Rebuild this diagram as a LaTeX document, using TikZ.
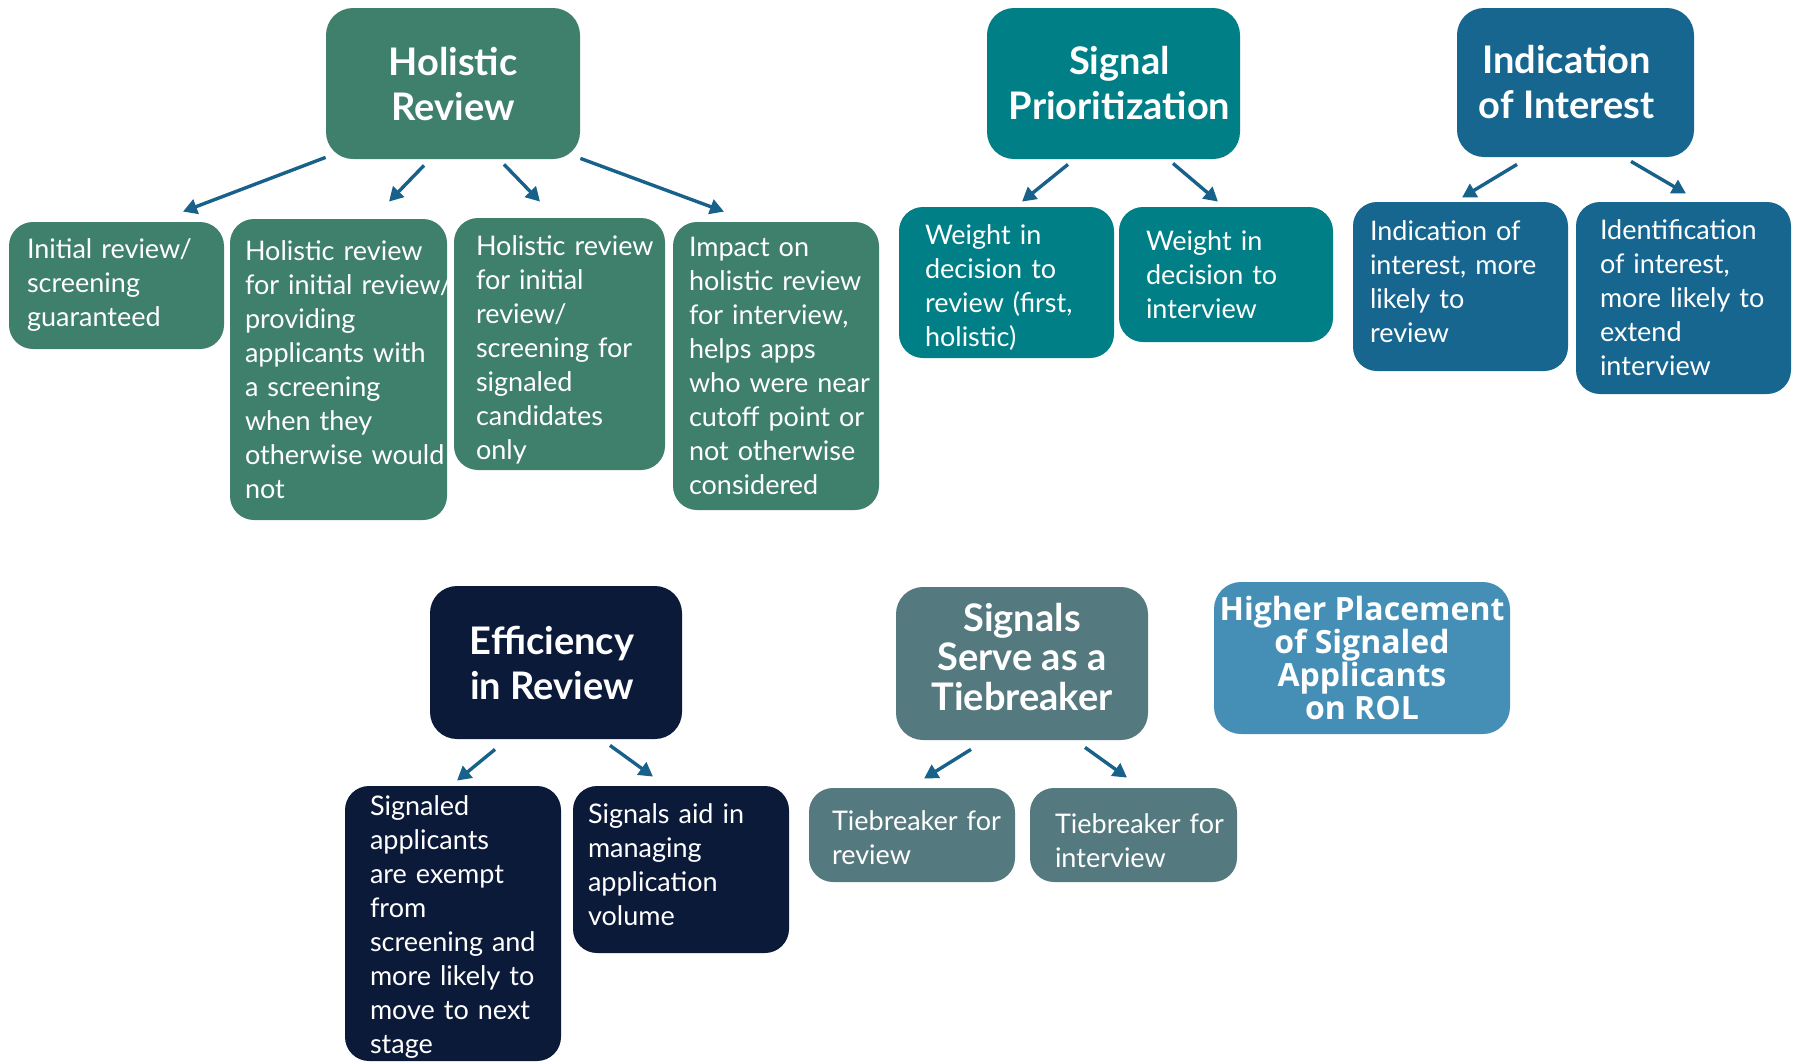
\documentclass[tikz,border=0pt]{standalone}
\usepackage{fontspec}
\setmainfont{Lato}
\newfontfamily\hpfont{Open Sans}
\usetikzlibrary{arrows.meta}
\definecolor{hrgreen}{HTML}{3F806C}
\definecolor{spteal}{HTML}{007F86}
\definecolor{iiblue}{HTML}{166690}
\definecolor{efnavy}{HTML}{0C1A3A}
\definecolor{tbslate}{HTML}{547A80}
\definecolor{hpblue}{HTML}{458FB7}
\definecolor{arrowc}{HTML}{17618A}
\tikzset{
  headbox/.style={rectangle, rounded corners=13.5pt, text=white, align=center, inner sep=0pt,
    font=\fontsize{19}{22.5}\selectfont\bfseries},
  childbox/.style={rectangle, rounded corners=12pt, text=white, align=left, inner xsep=0pt, inner ysep=0pt,
    font=\fontsize{13.5}{17}\selectfont,
    execute at begin node={\hyphenpenalty=10000\exhyphenpenalty=10000\hbadness=10000\hfuzz=50pt}},
  arr/.style={draw=arrowc, line width=1.7pt, -{Triangle[length=7pt,width=7.5pt]}},
}
\begin{document}
\begin{tikzpicture}[x=0.5pt,y=-0.5pt]
\path[use as bounding box, fill=white] (0,0) rectangle (1796,1062);
% heads
\node[headbox, fill=hrgreen, minimum width=127pt, minimum height=75.5pt, text depth=-2.2pt] (HR) at (453,83.5) {Holistic\\Review};
\node[headbox, fill=spteal, minimum width=126.5pt, minimum height=75.5pt] (SP) at (1113.5,83.5) {\hspace*{6pt}Signal\\\hspace*{6pt}Prioritization};
\node[headbox, fill=iiblue, minimum width=118.5pt, minimum height=74.5pt] (II) at (1575.5,82.5) {Indication\hspace*{9pt}\\of Interest\hspace*{9pt}};
\node[headbox, fill=efnavy, minimum width=126pt, minimum height=76.5pt] (EF) at (556,662.5) {Efficiency\hspace*{4pt}\\in Review\hspace*{4pt}};
\node[headbox, fill=tbslate, minimum width=126pt, minimum height=76.5pt, text depth=7pt, font=\fontsize{19}{19.75}\selectfont\bfseries] (TB) at (1022,663.5) {Signals\\Serve as a\\Tiebreaker};
\node[headbox, fill=hpblue, minimum width=148pt, minimum height=76pt, text depth=-3.4pt, font=\hpfont\fontsize{16}{16.5}\selectfont\bfseries] (HP) at (1362,658) {Higher Placement\\of Signaled\\Applicants\\on ROL};
% children
\node[childbox, fill=hrgreen, minimum width=107.5pt, minimum height=63.5pt, text width=89.5pt] (C1) at (116.5,285.5)
  {Initial~review/\\screening\\guaranteed};
\node[childbox, fill=hrgreen, minimum width=108.5pt, minimum height=150.5pt, text width=93.5pt] (C2) at (338.5,369.5)
  {Holistic~review\\for~initial~review/\\providing\\applicants~with\\a~screening\\when~they\\otherwise~would\\not};
\node[childbox, fill=hrgreen, minimum width=105.5pt, minimum height=126pt, text width=83.5pt] (C3) at (559.5,344)
  {Holistic~review\\for~initial\\review/\\screening~for\\signaled\\candidates\\only\par\vspace*{-5.8pt}};
\node[childbox, fill=hrgreen, minimum width=103pt, minimum height=144pt, text width=87pt] (C4) at (776,366)
  {Impact~on\\holistic~review\\for~interview,\\helps~apps\\who~were~near\\cutoff~point~or\\not~otherwise\\considered};
\node[childbox, fill=spteal, minimum width=107.5pt, minimum height=75.5pt, text width=81.5pt] (S1) at (1006.5,282.5)
  {Weight~in\\decision~to\\review~(first,\\holistic)\par\vspace*{-4.6pt}};
\node[childbox, fill=spteal, minimum width=107pt, minimum height=67.5pt, text width=80pt] (S2) at (1226,274.5)
  {Weight~in\\decision~to\\interview};
\node[childbox, fill=iiblue, minimum width=107.5pt, minimum height=84.5pt, text width=90.5pt] (I1) at (1460.5,286.5)
  {Indication~of\\interest,~more\\likely~to\\review\par\vspace*{5.2pt}};
\node[childbox, fill=iiblue, minimum width=107.5pt, minimum height=96pt, text width=83.5pt] (I2) at (1683.5,298)
  {Identification\\of~interest,\\more~likely~to\\extend\\interview};
\node[childbox, fill=efnavy, minimum width=108pt, minimum height=137.5pt, text width=83pt] (E1) at (453,923.5)
  {Signaled\\applicants\\are~exempt\\from\\screening~and\\more~likely~to\\move~to~next\\stage\par\vspace*{-3.4pt}};
\node[childbox, fill=efnavy, minimum width=108pt, minimum height=83.5pt, text width=93pt] (E2) at (681,869.5)
  {Signals~aid~in\\managing\\application\\volume\par\vspace*{4.6pt}};
\node[childbox, fill=tbslate, minimum width=103pt, minimum height=47pt, text width=80pt] (T1) at (912,835)
  {Tiebreaker~for\\review\par\vspace*{-2.2pt}};
\node[childbox, fill=tbslate, minimum width=103.5pt, minimum height=47pt, text width=78.5pt] (T2) at (1133.5,835)
  {Tiebreaker~for\\interview\par\vspace*{-5.8pt}};
% arrows
\draw[arr] ([shift={(0,-2)}]HR.south west) -- ([shift={(66.5,-10)}]C1.north);
\draw[arr] ([shift={(-29,6)}]HR.south) -- ([shift={(50.5,-17)}]C2.north);
\draw[arr] ([shift={(51,5)}]HR.south) -- ([shift={(-19.5,-16)}]C3.north);
\draw[arr] ([shift={(0,-1)}]HR.south east) -- ([shift={(-52,-10)}]C4.north);
\draw[arr] ([shift={(-45.5,5)}]SP.south) -- ([shift={(15.5,-5)}]S1.north);
\draw[arr] ([shift={(59.5,4)}]SP.south) -- ([shift={(-8,-5)}]S2.north);
\draw[arr] ([shift={(-58.5,7)}]II.south) -- ([shift={(1.5,-4)}]I1.north);
\draw[arr] ([shift={(55.5,4)}]II.south) -- ([shift={(2.5,-8)}]I2.north);
\draw[arr] ([shift={(-61,10)}]EF.south) -- ([shift={(4,-5)}]E1.north);
\draw[arr] ([shift={(54,6)}]EF.south) -- ([shift={(-28,-9)}]E2.north);
\draw[arr] ([shift={(-51,9)}]TB.south) -- ([shift={(12,-9)}]T1.north);
\draw[arr] ([shift={(63,7)}]TB.south) -- ([shift={(-6.5,-10)}]T2.north);
\end{tikzpicture}
\end{document}
